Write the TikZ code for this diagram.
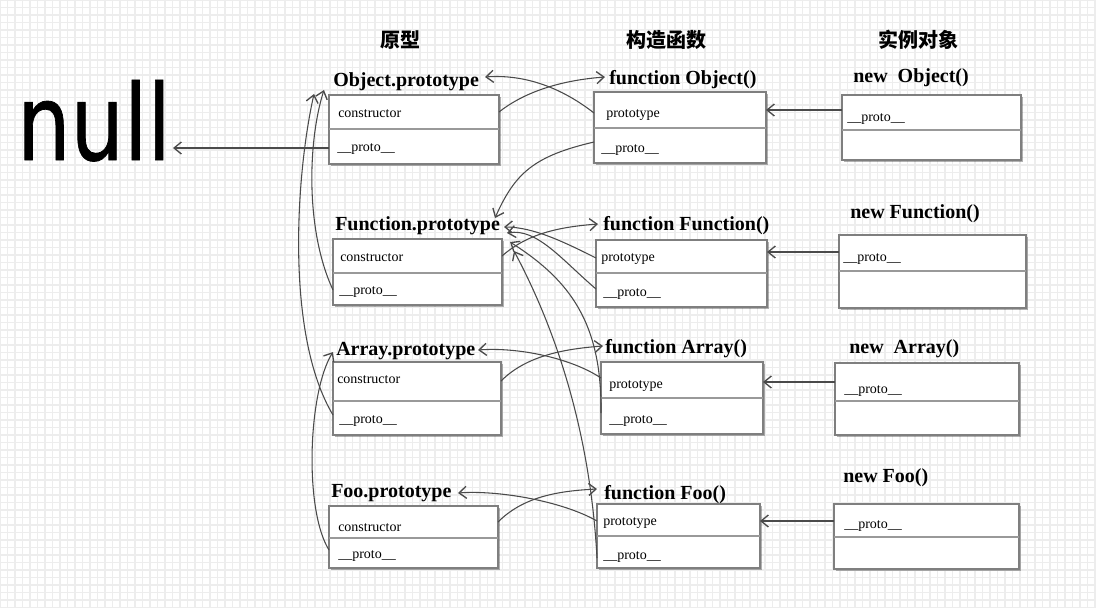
\documentclass[tikz,border=0pt]{standalone}
\usepackage{fontspec}
\setmainfont{Liberation Serif}
\newfontfamily\cjk{Noto Sans CJK SC}
\newfontfamily\nullfnt{DejaVu Sans}[FakeBold=0.8]
\usetikzlibrary{arrows.meta,shadows,fit}
\definecolor{lnc}{HTML}{4A4A4A}
\definecolor{bxc}{HTML}{7F7F7F}
\definecolor{grd}{HTML}{EDEDED}
\tikzset{
  box/.style={draw=bxc, line width=1.1pt, fill=white, inner sep=0pt,
    drop shadow={shadow xshift=1.6pt, shadow yshift=-1.6pt, opacity=0.3, fill=black}},
  divider/.style={draw=bxc!80, line width=0.9pt},
  ttl/.style={anchor=base west, inner sep=0pt, font=\fontsize{15}{18}\selectfont\bfseries},
  fld/.style={anchor=base west, inner sep=0pt, font=\fontsize{10.5}{12}\selectfont},
  hdr/.style={inner sep=0pt, font=\fontsize{15}{18}\selectfont\cjk\bfseries},
  arr/.style={draw=lnc, line width=0.8pt, -{Straight Barb[length=5.5pt,width=9pt,line width=1pt]}},
  gridln/.style={draw=grd, line width=1.2pt},
}
\begin{document}
\begin{tikzpicture}[x=0.75pt,y=-0.75pt]
\useasboundingbox (0,0) rectangle (1096,608);
\fill[white] (0,0) rectangle (1096,608);
% background grid
\foreach \i in {0,...,146} {\draw[gridln] (\i*7.5,0) -- (\i*7.5,608);}
\foreach \j in {0,...,81} {\draw[gridln] (0,\j*7.5) -- (1096,\j*7.5);}

% headers
\node[hdr] (h1) at (400,40) {原型};
\node[hdr] (h2) at (666,40) {构造函数};
\node[hdr] (h3) at (918,40) {实例对象};

% null
\node[anchor=base, inner sep=0pt, font=\fontsize{79}{90}\selectfont\nullfnt] (null) at (94,160) {\scalebox{0.8}[1]{null}};

% prototype column
\node[box, fit={(329,95) (499,164)}] (b1) {};
\draw[divider] (329,129) -- (499,129);
\node[box, fit={(333,239) (502,305)}] (b2) {};
\draw[divider] (333,273) -- (502,273);
\node[box, fit={(333,362) (501,435)}] (b3) {};
\draw[divider] (333,401) -- (501,401);
\node[box, fit={(329,506) (498,568)}] (b4) {};
\draw[divider] (329,538) -- (498,538);

% constructor column
\node[box, fit={(594,92) (766,163)}] (c1) {};
\draw[divider] (594,128) -- (766,128);
\node[box, fit={(596,240) (767,307)}] (c2) {};
\draw[divider] (596,273) -- (767,273);
\node[box, fit={(601,362) (763,434)}] (c3) {};
\draw[divider] (601,398) -- (763,398);
\node[box, fit={(597,504) (760,568)}] (c4) {};
\draw[divider] (597,536) -- (760,536);

% instance column
\node[box, fit={(842,95) (1021,160)}] (i1) {};
\draw[divider] (842,130) -- (1021,130);
\node[box, fit={(839,235) (1026,308)}] (i2) {};
\draw[divider] (839,271) -- (1026,271);
\node[box, fit={(835,363) (1019,435)}] (i3) {};
\draw[divider] (835,401) -- (1019,401);
\node[box, fit={(834,504) (1019,569)}] (i4) {};
\draw[divider] (834,537) -- (1019,537);

% titles
\node[ttl] (t1) at (333,86) {Object.prototype};
\node[ttl] (t2) at (335,230) {Function.prototype};
\node[ttl] (t3) at (336,355) {Array.prototype};
\node[ttl] (t4) at (331,497) {Foo.prototype};
\node[ttl] (u1) at (609,84) {function Object()};
\node[ttl] (u2) at (603,230) {function Function()};
\node[ttl] (u3) at (605,353) {function Array()};
\node[ttl] (u4) at (604,499) {function Foo()};
\node[ttl] (v1) at (853,82) {new\ \ Object()};
\node[ttl] (v2) at (850,218) {new Function()};
\node[ttl] (v3) at (849,353) {new\ \ Array()};
\node[ttl] (v4) at (843,482) {new Foo()};

% fields
\node[fld] (f1a) at (338,117) {constructor};
\node[fld] (f1b) at (337,151) {\_\_proto\_\_};
\node[fld] (f2a) at (340,261) {constructor};
\node[fld] (f2b) at (339,294) {\_\_proto\_\_};
\node[fld] (f3a) at (337,383) {constructor};
\node[fld] (f3b) at (339,423) {\_\_proto\_\_};
\node[fld] (f4a) at (338,531) {constructor};
\node[fld] (f4b) at (338,558) {\_\_proto\_\_};
\node[fld] (g1a) at (606,117) {prototype};
\node[fld] (g1b) at (601,152) {\_\_proto\_\_};
\node[fld] (g2a) at (601,261) {prototype};
\node[fld] (g2b) at (603,296) {\_\_proto\_\_};
\node[fld] (g3a) at (609,388) {prototype};
\node[fld] (g3b) at (609,423) {\_\_proto\_\_};
\node[fld] (g4a) at (603,525) {prototype};
\node[fld] (g4b) at (603,559) {\_\_proto\_\_};
\node[fld] (k1) at (847,121) {\_\_proto\_\_};
\node[fld] (k2) at (843,261) {\_\_proto\_\_};
\node[fld] (k3) at (844,393) {\_\_proto\_\_};
\node[fld] (k4) at (844,528) {\_\_proto\_\_};

% connector end points
\coordinate (b1p) at (329,148);
\coordinate (nulltip) at (173,148);
\coordinate (b1c) at (499,112);
\coordinate (c1t) at (605,77);
\coordinate (c1pr) at (594,113);
\coordinate (b1t) at (485,77);
\coordinate (i1p) at (842,110);
\coordinate (c1r) at (766,110);
\coordinate (c1pp) at (594,142);
\coordinate (b2tt) at (495,218);
\coordinate (b2c) at (502,256);
\coordinate (c2t) at (598,224);
\coordinate (c2pr) at (596,258);
\coordinate (b2ra) at (504,227);
\coordinate (c2pp) at (596,289);
\coordinate (b2rb) at (507,233);
\coordinate (c3pp) at (601,413);
\coordinate (b2rc) at (510,242);
\coordinate (c4pp) at (597,558);
\coordinate (b2rd) at (514,251);
\coordinate (i2p) at (839,252);
\coordinate (c2r) at (767,252);
\coordinate (b2pp) at (333,290);
\coordinate (b1la) at (324,90);
\coordinate (b3pp) at (333,415);
\coordinate (b1lb) at (314,94);
\coordinate (b4pp) at (329,550);
\coordinate (b3l) at (333,352);
\coordinate (b3c) at (501,381);
\coordinate (c3t) at (603,346);
\coordinate (c3pr) at (601,378);
\coordinate (b3r) at (478,350);
\coordinate (i3p) at (835,382);
\coordinate (c3r) at (763,382);
\coordinate (b4c) at (498,522);
\coordinate (c4t) at (597,489);
\coordinate (c4pr) at (597,521);
\coordinate (b4r) at (458,493);
\coordinate (i4p) at (834,521);
\coordinate (c4r) at (760,521);

% connectors
\draw[arr] (b1p) -- (nulltip);
\draw[arr] (b1c) .. controls +(28,-22) and +(-40,3) .. (c1t);
\draw[arr] (c1pr) .. controls +(-32,-25) and +(40,-3) .. (b1t);
\draw[arr] (i1p) -- (c1r);
\draw[arr] (c1pp) .. controls +(-60,14) and +(20,-45) .. (b2tt);
\draw[arr] (b2c) .. controls +(25,-22) and +(-40,3) .. (c2t);
\draw[arr] (c2pr) .. controls +(-30,-15) and +(30,0) .. (b2ra);
\draw[arr] (c2pp) .. controls +(-35,-30) and +(30,-5) .. (b2rb);
\draw[arr] (c3pp) .. controls +(1,-90) and +(60,38) .. (b2rc);
\draw[arr] (c4pp) .. controls +(-7,-130) and +(40,75) .. (b2rd);
\draw[arr] (i2p) -- (c2r);
\draw[arr] (b2pp) .. controls +(-28,-60) and +(-16,50) .. (b1la);
\draw[arr] (b3pp) .. controls +(-48,-80) and +(-18,80) .. (b1lb);
\draw[arr] (b4pp) .. controls +(-25,-40) and +(-25,40) .. (b3l);
\draw[arr] (b3c) .. controls +(25,-25) and +(-40,3) .. (c3t);
\draw[arr] (c3pr) .. controls +(-30,-20) and +(40,-3) .. (b3r);
\draw[arr] (i3p) -- (c3r);
\draw[arr] (b4c) .. controls +(25,-25) and +(-40,2) .. (c4t);
\draw[arr] (c4pr) .. controls +(-35,-20) and +(40,-3) .. (b4r);
\draw[arr] (i4p) -- (c4r);
\end{tikzpicture}
\end{document}
